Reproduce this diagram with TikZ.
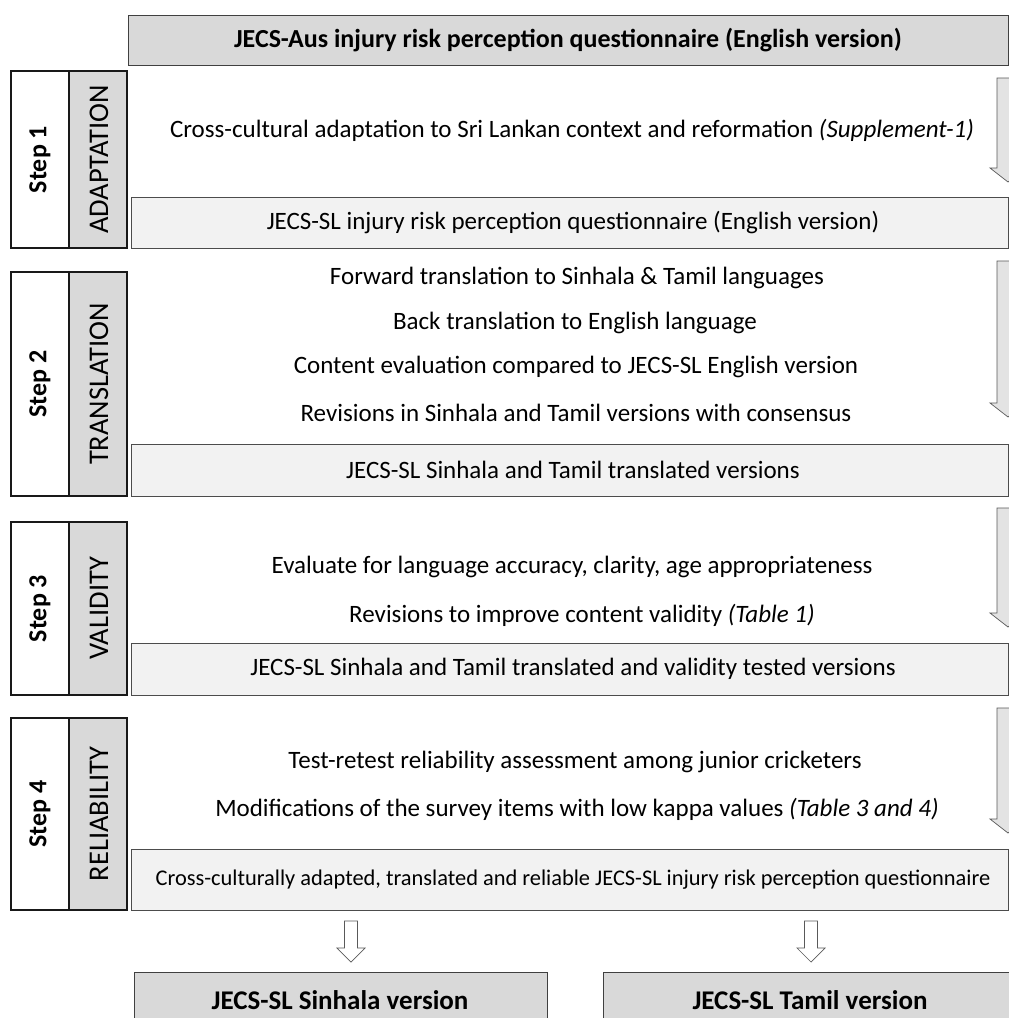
\documentclass[tikz,border=0pt]{standalone}
\usepackage{fontspec}
\setmainfont{Carlito}
\usetikzlibrary{positioning}
\definecolor{boxgray}{HTML}{D9D9D9}
\definecolor{boxlight}{HTML}{F2F2F2}
\definecolor{arrowgray}{HTML}{E3E3E3}
\newcommand{\fatdown}[7]{% style, x, top, head start, tip, half shaft, half head
  \filldraw[#1] (#2-#6,#3) -- (#2+#6,#3) -- (#2+#6,#4) -- (#2+#7,#4)
    -- (#2,#5) -- (#2-#7,#4) -- (#2-#6,#4) -- cycle;}
\tikzset{
  darkbox/.style={draw=black!75, fill=boxgray, line width=0.9pt},
  lightbox/.style={draw=black!70, fill=boxlight, line width=0.9pt},
  stepbox/.style={draw=black!90, fill=white, line width=1.2pt},
  labelbox/.style={draw=black!90, fill=boxgray, line width=1.2pt},
  fatarrow/.style={draw=black!65, fill=arrowgray, line width=0.7pt},
  openarrow/.style={draw=black!65, fill=white, line width=0.7pt},
  headtext/.style={font=\bfseries\fontsize{26}{30}\selectfont},
  endtext/.style={font=\bfseries\fontsize{27}{31}\selectfont},
  bodytext/.style={font=\fontsize{25}{29}\selectfont},
  outtext/.style={font=\fontsize{25}{29}\selectfont},
  steptext/.style={rotate=90, font=\bfseries\fontsize{26}{30}\selectfont},
  labtext/.style={rotate=90, font=\fontsize{28.5}{32}\selectfont}
}

\begin{document}
\begin{tikzpicture}[x=1pt,y=-1pt]
  \useasboundingbox (0,0) rectangle (1009,1018);
  \clip (0,0) rectangle (1009,1018);
  % English source questionnaire
  \draw[darkbox] (128,15) rectangle (1008,65);
  \node[headtext] (source) at (568,40) {JECS-Aus injury risk perception questionnaire (English version)};
  % the four steps
  \foreach \n/\lab/\ytop/\yout/\ybot/\txt in {
      1/ADAPTATION/71/197/248/{JECS-SL injury risk perception questionnaire (English version)},
      2/TRANSLATION/272/444/496/{JECS-SL Sinhala and Tamil translated versions},
      3/VALIDITY/522/643/695/{JECS-SL Sinhala and Tamil translated and validity tested versions},
      4/RELIABILITY/718/849/910/{\fontsize{22.4}{26}\selectfont Cross-culturally adapted, translated and reliable JECS-SL injury risk perception questionnaire}}
  {
    \draw[stepbox] (11,\ytop) rectangle (69,\ybot);
    \draw[labelbox] (69,\ytop) rectangle (127,\ybot);
    \draw[lightbox] (131,\yout) rectangle (1008,\ybot);
    \node[steptext] (step\n) at (40,{(\ytop+\ybot)/2}) {Step \n};
    \node[labtext] (lab\n) at (99,{(\ytop+\ybot)/2}) {\lab};
    \node[outtext] (out\n) at (573,{(\yout+\ybot)/2}) {\txt};
  }
  % step 1
  \node[bodytext] (adapt) at (572,130) {Cross-cultural adaptation to Sri Lankan context and reformation \textit{(Supplement-1)}};
  % step 2
  \node[bodytext] (fwd) at (577,278) {Forward translation to Sinhala \& Tamil languages};
  \node[bodytext] (back) at (575,323) {Back translation to English language};
  \node[bodytext] (content) at (576,367) {Content evaluation compared to JECS-SL English version};
  \node[bodytext] (revise) at (576,413) {Revisions in Sinhala and Tamil versions with consensus};
  % step 3
  \node[bodytext] (evaluate) at (572,567) {Evaluate for language accuracy, clarity, age appropriateness};
  \node[bodytext] (improve) at (582,615) {Revisions to improve content validity \textit{(Table 1)}};
  % step 4
  \node[bodytext] (retest) at (575,762) {Test-retest reliability assessment among junior cricketers};
  \node[bodytext] (modify) at (577,809) {Modifications of the survey items with low kappa values \textit{(Table 3 and 4)}};
  % arrows down the right side
  \fatdown{fatarrow}{1008}{78}{168}{182}{11}{18}
  \fatdown{fatarrow}{1008}{261}{403}{417}{11}{18}
  \fatdown{fatarrow}{1008}{508}{613}{627}{11}{18}
  \fatdown{fatarrow}{1008}{708}{819}{833}{11}{18}
  % final versions
  \fatdown{openarrow}{351}{921}{948}{962}{6.5}{14}
  \fatdown{openarrow}{811}{921}{948}{962}{6.5}{14}
  \draw[darkbox] (134,972) rectangle (547,1030);
  \draw[darkbox] (603,972) rectangle (1017,1030);
  \node[endtext] (sinhala) at (340,1000) {JECS-SL Sinhala version};
  \node[endtext] (tamil) at (810,1000) {JECS-SL Tamil version};
\end{tikzpicture}
\end{document}
